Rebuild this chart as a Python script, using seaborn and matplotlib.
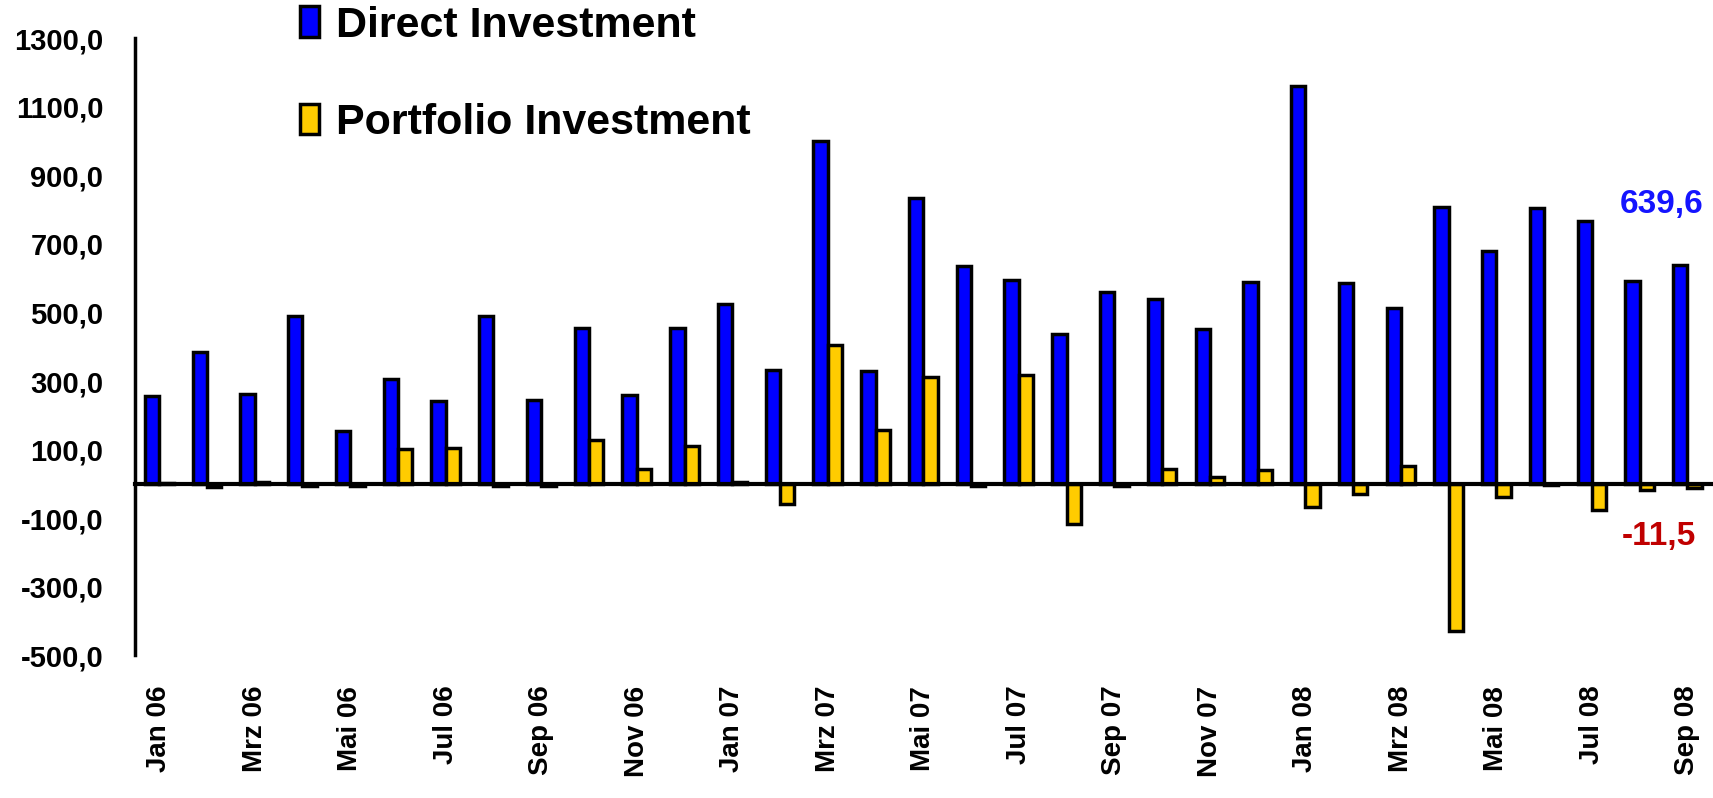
import numpy as np
import pandas as pd
import matplotlib
matplotlib.use("Agg")
import matplotlib.pyplot as plt
import seaborn as sns

# Monatswerte Jan 06 - Sep 08
monate = ["Jan 06", "Feb 06", "Mrz 06", "Apr 06", "Mai 06", "Jun 06",
          "Jul 06", "Aug 06", "Sep 06", "Okt 06", "Nov 06", "Dez 06",
          "Jan 07", "Feb 07", "Mrz 07", "Apr 07", "Mai 07", "Jun 07",
          "Jul 07", "Aug 07", "Sep 07", "Okt 07", "Nov 07", "Dez 07",
          "Jan 08", "Feb 08", "Mrz 08", "Apr 08", "Mai 08", "Jun 08",
          "Jul 08", "Aug 08", "Sep 08"]

direct_investment = [257, 384, 261, 491, 153, 305, 241, 491, 244, 456, 258, 455,
                     524, 331, 1001, 328, 833, 637, 594, 438, 559, 538, 453, 590,
                     1160, 586, 512, 808, 680, 805, 768, 591, 639.6]

portfolio_investment = [3, -10, 4, -5, -5, 101, 104, -5, -5, 127, 42, 109,
                        5, -60, 405, 157, 311, -5, 318, -116, -5, 42, 21, 41,
                        -68, -31, 52, -430, -39, -4, -75, -17, -11.5]

serien = ["Direct Investment", "Portfolio Investment"]

df = pd.DataFrame({
    "monat": monate * 2,
    "wert": direct_investment + portfolio_investment,
    "serie": [serien[0]] * len(monate) + [serien[1]] * len(monate),
})

sns.set_style("white")
plt.rcParams["font.family"] = ["Liberation Sans", "DejaVu Sans"]
plt.rcParams["font.weight"] = "bold"
plt.rcParams["text.color"] = "black"
plt.rcParams["xtick.color"] = "black"
plt.rcParams["ytick.color"] = "black"

fig = plt.figure(figsize=(17.13, 7.98), dpi=100, facecolor="white")
ax = fig.add_axes([0.079, 0.179, 0.92, 0.773])
ax.set_facecolor("white")

sns.barplot(data=df, x="monat", y="wert", hue="serie",
            palette=["#0000ff", "#ffcc00"], saturation=1, width=0.6,
            edgecolor="black", linewidth=2.5, ax=ax)

ax.set_xlim(-0.5, 32.5)
ax.set_ylim(-500, 1300)

# y-Achse
yticks = np.arange(-500, 1301, 200)
ax.set_yticks(yticks)
ax.set_yticklabels([f"{v:.1f}".replace(".", ",") for v in yticks],
                   fontsize=21, fontweight="bold")
ax.tick_params(axis="y", direction="out", length=9, width=2, pad=14, color="black",
               labelcolor="black")

for s in ["top", "right"]:
    ax.spines[s].set_visible(False)
ax.spines["left"].set_linewidth(2.5)
ax.spines["left"].set_color("black")

# Nulllinie als x-Achse mit Strichen zwischen den Monatspaaren
ax.spines["bottom"].set_position(("data", 0))
ax.spines["bottom"].set_linewidth(3)
ax.spines["bottom"].set_color("black")
ax.spines["bottom"].set_zorder(5)
ax.set_xticks(np.arange(1.5, 32, 2))
ax.set_xticklabels([])
ax.tick_params(axis="x", direction="out", length=9, width=2, color="black")
ax.set_xlabel("")
ax.set_ylabel("")

# Beschriftung der Monate unten
sec = ax.secondary_xaxis("bottom")
sec.set_xticks(np.arange(0, len(monate), 2))
sec.set_xticklabels(monate[::2], rotation=90, fontsize=20, fontweight="bold",
                    color="black")
sec.tick_params(length=0, pad=22)
sec.spines["bottom"].set_visible(False)

# Werte des letzten Monats
ax.text(31.45, 815, "639,6", color="#1414ff", fontsize=24, fontweight="bold",
        ha="center", va="center")
ax.text(31.4, -155, "-11,5", color="#c00000", fontsize=24, fontweight="bold",
        ha="center", va="center")

# Legende
handles, labels = ax.get_legend_handles_labels()
ax.get_legend().remove()
leg = fig.legend(handles, labels, loc="upper left", bbox_to_anchor=(0.175, 0.993),
                 frameon=False, prop={"weight": "bold", "size": 31},
                 handlelength=0.45, handleheight=0.7, handletextpad=0.4,
                 labelspacing=1.33, borderpad=0, borderaxespad=0)
for t in leg.get_texts():
    t.set_color("black")

fig.savefig("out.png", dpi=100, facecolor="white")
